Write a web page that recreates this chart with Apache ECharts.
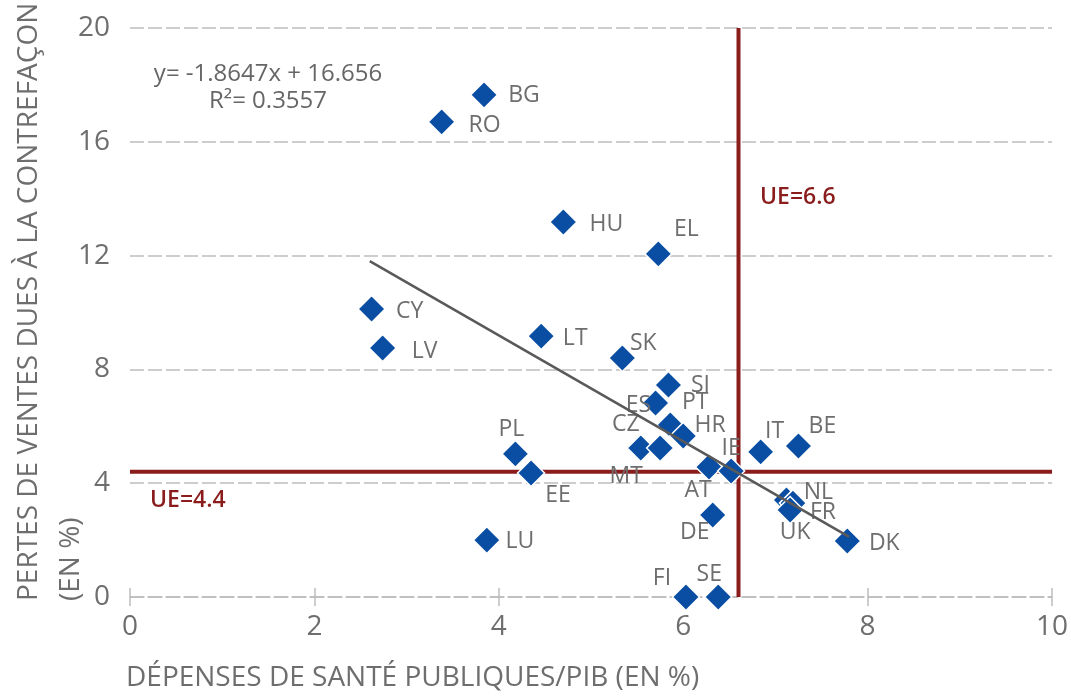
<!DOCTYPE html>
<html>
<head>
<meta charset="utf-8">
<script src="https://cdn.jsdelivr.net/npm/echarts@6/dist/echarts.min.js"></script>
<style>
  html, body { margin: 0; padding: 0; background: #fff; }
  #main { width: 1071px; height: 697px; }
</style>
</head>
<body>
<div id="main"></div>
<script>
  // country codes, public health spending / GDP (%), sales lost to counterfeiting (%)
  var countries = ['BG', 'RO', 'HU', 'EL', 'CY', 'LV', 'LT', 'SK', 'SI', 'ES', 'PT', 'HR', 'CZ', 'MT',
    'AT', 'IE', 'IT', 'BE', 'PL', 'EE', 'NL', 'FR', 'UK', 'DE', 'DK', 'LU', 'FI', 'SE'];
  var healthSpend = [3.84, 3.38, 4.70, 5.73, 2.62, 2.74, 4.46, 5.34, 5.84, 5.70, 5.86, 6.00, 5.54, 5.75,
    6.28, 6.52, 6.84, 7.25, 4.18, 4.35, 7.12, 7.19, 7.16, 6.32, 7.78, 3.87, 6.03, 6.38];
  var salesLoss = [17.65, 16.7, 13.18, 12.06, 10.12, 8.75, 9.17, 8.40, 7.45, 6.82, 6.05, 5.66, 5.24, 5.24,
    4.57, 4.43, 5.10, 5.31, 5.03, 4.36, 3.41, 3.30, 3.06, 2.88, 1.97, 2.0, 0, 0];

  // EU averages and trend line
  var euHealth = 6.6;
  var euLoss = 4.4;
  var trendSlope = -1.8647;
  var trendIntercept = 16.656;
  var trendRange = [2.6, 7.8];

  var xTicks = ['0', '2', '4', '6', '8', '10'];
  var yTicks = ['0', '4', '8', '12', '16', '20'];

  // where each country's label sits relative to its marker
  var labelOffsets = {
    BG: [40, 1], RO: [43, 4], HU: [43, 2], EL: [28, -24], CY: [38, 2], LV: [42, 3], LT: [34, 2],
    SK: [21, -15], SI: [32, 0], ES: [-17, 2], PT: [25, -22], HR: [27, -11], CZ: [-15, -23],
    MT: [-34, 29], AT: [-11, 23], IE: [0, -23], IT: [14, -20], BE: [24, -19], PL: [-4, -24],
    EE: [27, 22], NL: [32, -8], FR: [30, 9], UK: [5, 23], DE: [-18, 17], DK: [37, 2], LU: [33, 1],
    FI: [-24, -19], SE: [-9, -23]
  };

  var FONT = '"Open Sans", "Noto Sans", sans-serif';
  var GREY = '#6e6e6e';
  var RED = '#8a1c1c';
  var GRIDC = '#bdbdbd';

  var points = countries.map(function (c, i) {
    return {
      name: c,
      value: [healthSpend[i], salesLoss[i]],
      label: { offset: labelOffsets[c] }
    };
  });

  var trend = trendRange.map(function (x) { return [x, trendSlope * x + trendIntercept]; });

  var myChart = echarts.init(document.getElementById('main'));

  var option = {
    animation: false,
    grid: { left: 130, right: 16, top: 28, bottom: 100 },
    xAxis: [{
      type: 'value', min: 0, max: 10, interval: 2,
      axisLine: { show: true, lineStyle: { color: GRIDC, width: 1.5, type: [14, 4] } },
      axisTick: { show: true, length: 9, lineStyle: { color: GRIDC, width: 1.5 } },
      axisLabel: {
        margin: 16, color: GREY, fontSize: 28, fontFamily: FONT,
        formatter: function (v) { return xTicks[Math.round(v / 2)]; }
      },
      splitLine: { show: false }
    }, {
      type: 'value', min: 0, max: 10, interval: 2, position: 'bottom',
      axisLine: { show: false },
      axisTick: { show: true, inside: true, length: 9, lineStyle: { color: GRIDC, width: 1.5 } },
      axisLabel: { show: false },
      splitLine: { show: false }
    }],
    yAxis: {
      type: 'value', min: 0, max: 20, interval: 4,
      axisLine: { show: false },
      axisTick: { show: false },
      axisLabel: {
        margin: 20, color: GREY, fontSize: 28, fontFamily: FONT,
        formatter: function (v) { return yTicks[Math.round(v / 4)]; }
      },
      splitLine: { show: true, lineStyle: { color: GRIDC, width: 1.5, type: [14, 4] } }
    },
    graphic: [
      {
        type: 'text', left: 126, top: 664,
        style: { text: 'DÉPENSES DE SANTÉ PUBLIQUES/PIB (EN %)', fill: GREY, font: '28px ' + FONT }
      },
      {
        type: 'text', x: 8, y: 601, rotation: Math.PI / 2,
        style: {
          text: 'PERTES DE VENTES DUES À LA CONTREFAÇON\n(EN %)', fill: GREY,
          font: '28px ' + FONT, textAlign: 'left', textVerticalAlign: 'top', lineHeight: 42
        }
      },
      {
        type: 'text', x: 268, y: 61,
        style: {
          text: 'y= -1.8647x + 16.656\nR²= 0.3557', fill: '#666', font: '24px ' + FONT,
          textAlign: 'center', lineHeight: 27
        }
      },
      {
        type: 'text', x: 760, y: 186,
        style: { text: 'UE=' + euHealth, fill: RED, font: '600 23px ' + FONT }
      },
      {
        type: 'text', x: 150, y: 489,
        style: { text: 'UE=' + euLoss, fill: RED, font: '600 23px ' + FONT }
      }
    ],
    series: [
      {
        name: 'UE santé', type: 'line', symbol: 'none', silent: true, z: 3,
        data: [[euHealth, 0], [euHealth, 20]],
        lineStyle: { color: RED, width: 4 }
      },
      {
        name: 'UE pertes', type: 'line', symbol: 'none', silent: true, z: 3,
        data: [[0, euLoss], [10, euLoss]],
        lineStyle: { color: RED, width: 4 }
      },
      {
        name: 'pays', type: 'scatter', symbol: 'diamond', symbolSize: 27, z: 4,
        data: points,
        itemStyle: { color: '#0a4ea3', opacity: 1, borderColor: '#fff', borderWidth: 1.5 },
        label: {
          show: true, position: 'inside', color: GREY, fontSize: 23, fontFamily: FONT,
          formatter: '{b}'
        }
      },
      {
        name: 'tendance', type: 'line', symbol: 'none', silent: true, z: 5,
        data: trend,
        lineStyle: { color: '#595959', width: 2.5 }
      }
    ]
  };

  myChart.setOption(option);
</script>
</body>
</html>
